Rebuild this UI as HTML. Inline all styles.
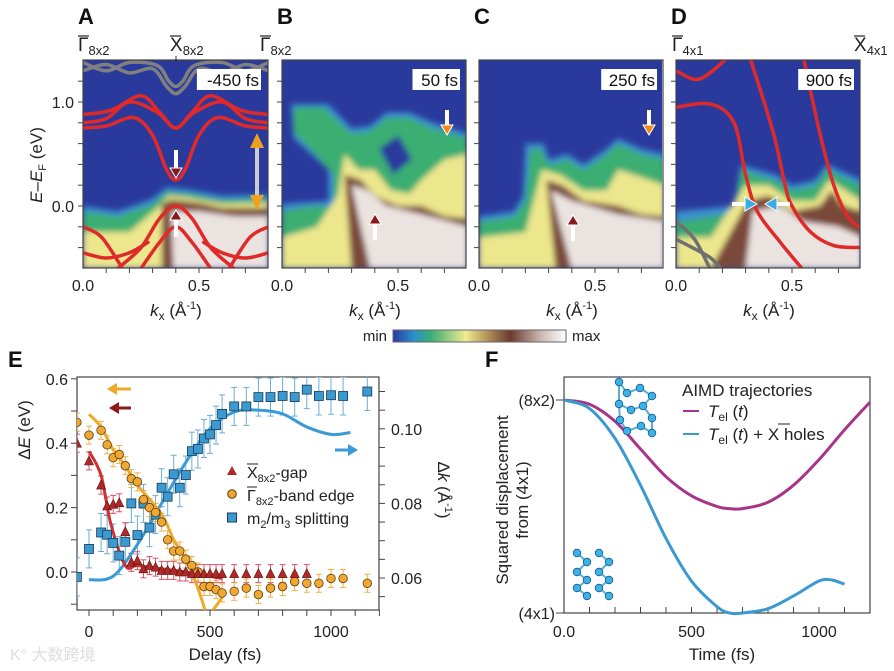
<!DOCTYPE html>
<html><head><meta charset="utf-8"><style>
html,body{margin:0;padding:0;background:#fff;}
svg{display:block;font-family:"Liberation Sans",Arial,sans-serif;}
</style></head><body>
<svg id="fig" width="894" height="671" viewBox="0 0 894 671" xmlns="http://www.w3.org/2000/svg">
<defs>
<filter id="blur" x="-10%" y="-10%" width="120%" height="120%"><feGaussianBlur stdDeviation="3"/></filter>
<linearGradient id="cbar" x1="0" x2="1" y1="0" y2="0">
<stop offset="0" stop-color="#2a3a9c"/><stop offset="0.12" stop-color="#2a8fd0"/><stop offset="0.22" stop-color="#3aae72"/><stop offset="0.42" stop-color="#f0ec8e"/><stop offset="0.58" stop-color="#a07a4a"/><stop offset="0.68" stop-color="#6e3a30"/><stop offset="0.85" stop-color="#c9b6b0"/><stop offset="1" stop-color="#ffffff"/>
</linearGradient>
<clipPath id="cA"><rect x="83" y="60" width="185" height="208"/></clipPath>
<clipPath id="cB"><rect x="282" y="60" width="184" height="208"/></clipPath>
<clipPath id="cC"><rect x="479" y="60" width="183" height="208"/></clipPath>
<clipPath id="cD"><rect x="676" y="60" width="184" height="208"/></clipPath>
<clipPath id="cE"><rect x="77" y="377" width="302" height="233"/></clipPath>
</defs>
</svg>
<script>
const NS='http://www.w3.org/2000/svg';
const svg=document.getElementById('fig');
function mk(tag,attrs,parent,text){const e=document.createElementNS(NS,tag);for(const k in attrs)e.setAttribute(k,attrs[k]);if(text!==undefined)e.textContent=text;(parent||svg).appendChild(e);return e;}

// ---------- Panel E data ----------
const eDelays=[-50,0,50,75,100,125,150,175,200,225,250,275,300,325,350,375,400,425,450,475,500,525,550,600,650,700,750,800,850,900,950,1000,1050,1150];
const gapDelays=[-50,0,50,75,100,125,150,175,200,225,250,275,300,325,350,375,400,425,450,475,500,525,550,600,650,700,750,800,850,900];
const gapValues=[0.40,0.345,0.27,0.205,0.21,0.215,0.125,0.03,0.035,0.01,0.02,0.015,0.005,0.005,0.005,0.0,0.0,-0.005,-0.005,-0.005,-0.005,-0.005,-0.005,-0.005,-0.005,-0.005,-0.005,-0.005,-0.005,-0.005];
const edgeValues=[0.465,0.425,0.44,0.395,0.355,0.365,0.33,0.29,0.28,0.225,0.20,0.185,0.155,0.10,0.065,0.065,0.04,0.02,0.0,-0.045,-0.045,-0.055,-0.065,-0.06,-0.05,-0.07,-0.05,-0.045,-0.03,-0.035,-0.035,-0.02,-0.02,-0.035];
const splitValues=[0.0603,0.0678,0.0722,0.0716,0.0694,0.066,0.0697,0.080,0.0715,0.080,0.0735,0.077,0.0842,0.0818,0.0878,0.0842,0.0876,0.094,0.0946,0.0974,0.0985,0.101,0.104,0.106,0.106,0.1085,0.1085,0.1088,0.1085,0.1105,0.1088,0.109,0.1088,0.110];
const gapFitT=[0,50,90,150,200,300,400,550];
const gapFitV=[0.375,0.30,0.15,0.02,0.02,0.01,0.0,-0.02];
const edgeFitT=[0,50,100,150,200,300,350,400,450,480];
const edgeFitV=[0.49,0.45,0.38,0.33,0.27,0.18,0.10,0.04,-0.05,-0.12];
const splitFitT=[0,100,200,300,400,500,600,700,800,900,1000,1080];
const splitFitV=[0.0595,0.0605,0.069,0.080,0.091,0.100,0.1045,0.105,0.104,0.1005,0.0985,0.099];
const eLeftTicks=[0.0,0.2,0.4,0.6];
const eRightTicks=[0.06,0.08,0.10];
const eXTicks=[0,500,1000];

// ---------- Panel F data ----------
const fT=[0,100,200,300,400,500,600,650,700,800,900,1000,1100,1200];
const fMagenta=[1,0.98,0.9,0.77,0.64,0.55,0.5,0.49,0.49,0.52,0.6,0.72,0.86,0.99];
const fBlueT=[0,100,200,300,400,500,600,650,700,800,900,1000,1050,1100];
const fBlue=[1,0.96,0.82,0.6,0.35,0.15,0.03,0.0,0.0,0.02,0.08,0.15,0.155,0.135];
const fXTicks=[0,500,1000];
const fXTickLabels=['0.0','500','1000'];

// ---------- Top panels ----------
const panels=[
 {id:'A',x0:83,clip:'cA',label:'-450 fs'},
 {id:'B',x0:282,clip:'cB',label:'50 fs'},
 {id:'C',x0:479,clip:'cC',label:'250 fs'},
 {id:'D',x0:676,clip:'cD',label:'900 fs'}];
const KS=232; function ey(E){return 206-104*E;}
const layers={
A:[['#3a8fd0',[[0,-0.6],[0,0],[0.15,-0.05],[0.3,0.07],[0.36,0.18],[0.45,0.16],[0.6,0.1],[0.8,0.11],[0.8,-0.6]]],
   ['#3aae72',[[0,-0.6],[0,-0.05],[0.15,-0.1],[0.3,0.02],[0.36,0.14],[0.45,0.12],[0.6,0.06],[0.8,0.07],[0.8,-0.6]]],
   ['#ece68c',[[0,-0.6],[0,-0.25],[0.2,-0.25],[0.32,-0.02],[0.37,0.1],[0.45,0.08],[0.6,0.02],[0.8,0.03],[0.8,-0.6]]],
   ['#7a4a3a',[[0.34,-0.6],[0.34,0.02],[0.38,0.06],[0.5,0.03],[0.6,-0.02],[0.8,-0.02],[0.8,-0.6]]],
   ['#ebe3e0',[[0.39,-0.6],[0.38,-0.05],[0.5,-0.05],[0.65,-0.1],[0.8,-0.1],[0.8,-0.6]]]],
B:[['#3a8fd0',[[0,-0.6],[0,0.02],[0.2,0.05],[0.2,0.35],[0.05,0.65],[0.04,0.98],[0.2,0.98],[0.3,0.75],[0.38,0.77],[0.45,0.9],[0.55,0.9],[0.65,0.8],[0.8,0.7],[0.8,-0.6]]],
   ['#3aae72',[[0,-0.6],[0,-0.05],[0.12,0],[0.22,0],[0.22,0.3],[0.1,0.6],[0.05,0.7],[0.05,0.95],[0.18,0.95],[0.3,0.7],[0.38,0.72],[0.45,0.85],[0.55,0.85],[0.65,0.75],[0.8,0.65],[0.8,-0.6]]],
   ['#2a3a9c',[[0.42,0.55],[0.5,0.68],[0.56,0.45],[0.48,0.3]]],
   ['#ece68c',[[0,-0.6],[0,-0.3],[0.15,-0.2],[0.24,0.1],[0.27,0.5],[0.33,0.35],[0.4,0.35],[0.47,0.15],[0.55,0.12],[0.6,0.25],[0.7,0.45],[0.8,0.5],[0.8,-0.6]]],
   ['#7a4a3a',[[0.3,-0.6],[0.27,0.3],[0.34,0.25],[0.4,0.1],[0.5,0],[0.6,0],[0.7,-0.1],[0.8,-0.12],[0.8,-0.6]]],
   ['#ebe3e0',[[0.38,-0.6],[0.3,0.2],[0.37,0.15],[0.45,0],[0.6,-0.08],[0.8,-0.2],[0.8,-0.6]]]],
C:[['#3a8fd0',[[0,-0.6],[0,-0.1],[0.15,-0.05],[0.19,0.1],[0.2,0.6],[0.28,0.6],[0.3,0.45],[0.38,0.5],[0.45,0.4],[0.55,0.55],[0.6,0.65],[0.7,0.55],[0.8,0.5],[0.8,-0.6]]],
   ['#3aae72',[[0,-0.6],[0,-0.15],[0.15,-0.1],[0.2,0.05],[0.21,0.3],[0.22,0.55],[0.27,0.55],[0.3,0.4],[0.38,0.45],[0.45,0.35],[0.55,0.5],[0.6,0.6],[0.7,0.5],[0.8,0.45],[0.8,-0.6]]],
   ['#ece68c',[[0,-0.6],[0,-0.3],[0.2,-0.25],[0.27,0.35],[0.35,0.3],[0.45,0.15],[0.55,0.15],[0.6,0.35],[0.67,0.3],[0.8,0.2],[0.8,-0.6]]],
   ['#7a4a3a',[[0.33,-0.6],[0.29,0.25],[0.36,0.2],[0.45,0.05],[0.6,0],[0.7,-0.08],[0.8,-0.1],[0.8,-0.6]]],
   ['#ebe3e0',[[0.4,-0.6],[0.31,0.15],[0.4,0.05],[0.6,-0.08],[0.8,-0.15],[0.8,-0.6]]]],
D:[['#3a8fd0',[[0,-0.6],[0,-0.05],[0.15,-0.02],[0.25,0.0],[0.28,0.4],[0.35,0.35],[0.43,0.3],[0.5,0.2],[0.6,0.25],[0.65,0.4],[0.7,0.35],[0.8,0.25],[0.8,-0.6]]],
   ['#3aae72',[[0,-0.6],[0,-0.15],[0.15,-0.1],[0.25,-0.05],[0.28,0.35],[0.35,0.3],[0.43,0.25],[0.5,0.15],[0.6,0.2],[0.65,0.35],[0.7,0.3],[0.8,0.2],[0.8,-0.6]]],
   ['#ece68c',[[0,-0.6],[0,-0.3],[0.15,-0.3],[0.3,0.2],[0.4,0.2],[0.5,0.05],[0.6,0.05],[0.66,0.25],[0.8,0.05],[0.8,-0.6]]],
   ['#7a4a3a',[[0.15,-0.6],[0.31,0.05],[0.4,0.1],[0.5,-0.05],[0.62,0],[0.67,0.15],[0.72,0],[0.8,-0.05],[0.8,-0.6]]],
   ['#ebe3e0',[[0.3,-0.6],[0.33,-0.05],[0.45,0],[0.55,-0.15],[0.7,-0.2],[0.8,-0.3],[0.8,-0.6]]]]
};
function mirror(h){const r=h.slice();for(let i=h.length-2;i>=0;i--)r.push([0.8-h[i][0],h[i][1]]);return r;}
const bandsA=[
 ['#e02a2a',mirror([[0,0.88],[0.12,0.92],[0.25,1.06],[0.33,0.9],[0.4,0.75]])],
 ['#e02a2a',mirror([[0,0.8],[0.1,0.84],[0.2,1.0],[0.32,0.9],[0.4,0.75]])],
 ['#e02a2a',mirror([[0,0.75],[0.1,0.77],[0.22,0.85],[0.3,0.68],[0.36,0.35],[0.4,0.25]])],
 ['#e02a2a',mirror([[0.15,-0.6],[0.25,-0.4],[0.33,-0.12],[0.4,0.0]])],
 ['#e02a2a',mirror([[0.25,-0.6],[0.33,-0.35],[0.4,-0.2]])],
 ['#e02a2a',[[0,-0.2],[0.08,-0.3],[0.17,-0.6]]],
 ['#e02a2a',[[0.8,-0.2],[0.72,-0.3],[0.63,-0.6]]],
 ['#e02a2a',[[0,-0.45],[0.1,-0.5],[0.2,-0.45],[0.28,-0.35]]],
 ['#e02a2a',[[0.8,-0.45],[0.7,-0.5],[0.6,-0.45],[0.52,-0.35]]],
 ['#808080',mirror([[0,1.3],[0.1,1.36],[0.2,1.28],[0.3,1.32],[0.36,1.15],[0.4,1.08]])],
 ['#808080',mirror([[0,1.38],[0.1,1.3],[0.2,1.38],[0.32,1.35],[0.37,1.2],[0.4,1.15]])]];
const bandsD=[
 ['#e02a2a',[[0,1.3],[0.1,1.22],[0.22,1.42]]],
 ['#e02a2a',[[0,0.95],[0.15,0.98],[0.25,0.8],[0.3,0.3],[0.35,-0.05],[0.45,-0.35],[0.55,-0.62]]],
 ['#e02a2a',[[0.32,1.42],[0.42,0.7],[0.47,0.2],[0.5,0.0],[0.58,-0.25],[0.68,-0.38],[0.8,-0.4]]],
 ['#e02a2a',[[0.55,1.42],[0.62,0.7],[0.68,0.2],[0.74,-0.1],[0.8,-0.22]]],
 ['#707070',[[0,-0.15],[0.08,-0.32],[0.15,-0.62]]],
 ['#707070',[[0,-0.32],[0.07,-0.4],[0.15,-0.5],[0.2,-0.62]]]];

function smoothPath(pts){let d='M'+pts[0][0]+','+pts[0][1];for(let i=0;i<pts.length-1;i++){const p0=pts[i-1]||pts[i],p1=pts[i],p2=pts[i+1],p3=pts[i+2]||p2;const c1=[p1[0]+(p2[0]-p0[0])/6,p1[1]+(p2[1]-p0[1])/6],c2=[p2[0]-(p3[0]-p1[0])/6,p2[1]-(p3[1]-p1[1])/6];d+=' C'+c1.join(',')+' '+c2.join(',')+' '+p2.join(',');}return d;}

panels.forEach(p=>{
 const g=mk('g',{'clip-path':'url(#'+p.clip+')'});
 
 
 const bg=mk('rect',{x:p.x0,y:60,width:186,height:208,fill:'#2a3a9c'},g);
 
 
 const lg=mk('g',{filter:'url(#blur)'},g);
 
 
 layers[p.id].forEach(l=>{
  const pts=l[1].map(q=>(p.x0+q[0]*KS)+','+ey(q[1])).join(' ');
  const poly=mk('polygon',{points:pts,fill:l[0]},lg);
  
  
 });
 const bands=p.id==='A'?bandsA:(p.id==='D'?bandsD:[]);
 bands.forEach(b=>{
  const pts=b[1].map(q=>[p.x0+q[0]*KS,ey(q[1])]);
  const path=mk('path',{d:smoothPath(pts),fill:'none',stroke:b[0],'stroke-width':3.5,'stroke-linecap':'round'},g);
  
  
 });
 // frame
 const fr=mk('rect',{x:p.x0,y:60,width:p.id==='A'?185:184,height:208,fill:'none',stroke:'#444','stroke-width':1.2});
 
 
 // time label
 const tw=p.label.length*8.3+6;
 const lb=mk('rect',{x:p.x0+178-tw,y:69,width:tw,height:21,fill:'#fff'});
 
 
 const lt=mk('text',{x:p.x0+176,y:86,'text-anchor':'end','font-size':17,fill:'#111'},svg,p.label);
 
 
 // panel letter
 const pl=mk('text',{x:p.x0-5,y:24,'font-size':22,'font-weight':'bold',fill:'#111'},svg,p.id);
 
 
 // ticks
 for(let E=-0.4;E<=1.21;E+=0.2){const t=mk('line',{x1:p.x0-5,x2:p.x0,y1:ey(E),y2:ey(E),stroke:'#444'});}
 for(let k=0.1;k<0.79;k+=0.1){const t=mk('line',{x1:p.x0+k*KS,x2:p.x0+k*KS,y1:268,y2:273,stroke:'#444'});}
 [[0,'0.0'],[0.5,'0.5']].forEach(v=>{const t=mk('text',{x:p.x0+v[0]*KS,y:291,'text-anchor':'middle','font-size':16,fill:'#222'},svg,v[1]);});
 const xt=mk('text',{x:p.x0+93,y:316,'text-anchor':'middle','font-size':17,fill:'#222'});
 
 
 xt.innerHTML='<tspan font-style="italic">k</tspan><tspan font-size="12" dy="4">x</tspan><tspan dy="-4"> (Å</tspan><tspan font-size="11" dy="-7">-1</tspan><tspan dy="7">)</tspan>';
});
// Y axis A
[[1.0,'1.0'],[0.0,'0.0']].forEach(v=>{const t=mk('text',{x:74,y:ey(v[0])+6,'text-anchor':'end','font-size':16,fill:'#222'},svg,v[1]);});
const yta=mk('text',{transform:'translate(42,165) rotate(-90)','text-anchor':'middle','font-size':17,fill:'#222'});


yta.innerHTML='<tspan font-style="italic">E</tspan>–<tspan font-style="italic">E</tspan><tspan font-size="11" dy="4">F</tspan><tspan dy="-4"> (eV)</tspan>';
// high symmetry labels
function sym(x,y,letter,sub,name){const t=mk('text',{x:x,y:y,'font-size':19,fill:'#222'});t.innerHTML=letter+'<tspan font-size="13" dy="4">'+sub+'</tspan>';const w=11;mk('line',{x1:x,x2:x+w,y1:y-15,y2:y-15,stroke:'#222','stroke-width':1.2});}
sym(78,51,'Γ','8x2','gamma-8x2-left');sym(170,51,'X','8x2','x-8x2-label');sym(260,51,'Γ','8x2','gamma-8x2-right');
sym(672,51,'Γ','4x1','gamma-4x1-label');sym(854,51,'X','4x1','x-4x1-label');
mk('line',{x1:176,x2:176,y1:56,y2:62,stroke:'#222'});
// arrows in A-D
function arrow(x,y1,y2,color,name){const g=mk('g',{});const dir=y2>y1?1:-1;mk('line',{x1:x,x2:x,y1:y1,y2:y2-dir*8,stroke:'#fff','stroke-width':4},g);mk('polygon',{points:`${x-6},${y2-dir*10} ${x+6},${y2-dir*10} ${x},${y2}`,fill:color,stroke:'#fff','stroke-width':1},g);}
arrow(176,150,178,'#8a1a1a','gap-arrow-down');arrow(176,237,210,'#8a1a1a','gap-arrow-up');
arrow(375,240,214,'#8a1a1a','gap-arrow-b');arrow(573,241,215,'#8a1a1a','gap-arrow-c');
arrow(447,110,135,'#f08a1e','edge-arrow-b');arrow(649,110,135,'#f08a1e','edge-arrow-c');
const ga=mk('g',{});
mk('line',{x1:257,x2:257,y1:145,y2:198,stroke:'#ccc','stroke-width':4},ga);
mk('polygon',{points:'250,148 264,148 257,133',fill:'#f0a020'},ga);mk('polygon',{points:'250,195 264,195 257,210',fill:'#f0a020'},ga);
const ca=mk('g',{});
mk('line',{x1:732,x2:750,y1:204,y2:204,stroke:'#fff','stroke-width':4},ca);mk('polygon',{points:'745,197 745,211 757,204',fill:'#3aaee0',stroke:'#fff'},ca);
mk('line',{x1:790,x2:772,y1:204,y2:204,stroke:'#fff','stroke-width':4},ca);mk('polygon',{points:'777,197 777,211 765,204',fill:'#3aaee0',stroke:'#fff'},ca);
// colorbar
const cb=mk('rect',{x:393,y:330,width:173,height:12,fill:'url(#cbar)',stroke:'#666'});

const cmin=mk('text',{x:387,y:341,'text-anchor':'end','font-size':15,fill:'#222'},svg,'min');
const cmax=mk('text',{x:572,y:341,'font-size':15,fill:'#222'},svg,'max');

// ---------- Panel E ----------
const ex=t=>89+t*0.242, eyE=v=>572-v*322, eyK=k=>578-(k-0.06)*3730;
const eL=mk('text',{x:8,y:367,'font-size':22,'font-weight':'bold',fill:'#111'},svg,'E');
const eF=mk('rect',{x:77,y:377,width:302,height:233,fill:'none',stroke:'#444','stroke-width':1.2});
for(let v=-0.1;v<=0.61;v+=0.1){const t=mk('line',{x1:71,x2:77,y1:eyE(v),y2:eyE(v),stroke:'#444'});}
eLeftTicks.forEach(v=>{const t=mk('text',{x:68,y:eyE(v)+6,'text-anchor':'end','font-size':16,fill:'#222'},svg,v.toFixed(1));});
for(let k=0.055;k<=0.111;k+=0.005){const t=mk('line',{x1:379,x2:385,y1:eyK(k),y2:eyK(k),stroke:'#444'});}
eRightTicks.forEach(v=>{const t=mk('text',{x:391,y:eyK(v)+6,'font-size':16,fill:'#222'},svg,v.toFixed(2));});
for(let t0=0;t0<=1200;t0+=100){const t=mk('line',{x1:ex(t0),x2:ex(t0),y1:610,y2:616,stroke:'#444'});}
eXTicks.forEach(v=>{const t=mk('text',{x:ex(v),y:637,'text-anchor':'middle','font-size':16,fill:'#222'},svg,String(v));});
const ext=mk('text',{x:225,y:660,'text-anchor':'middle','font-size':17,fill:'#222'},svg,'Delay (fs)');
const eyt=mk('text',{transform:'translate(30,430) rotate(-90)','text-anchor':'middle','font-size':17,fill:'#222'});eyt.innerHTML='Δ<tspan font-style="italic">E</tspan> (eV)';
const ey2=mk('text',{transform:'translate(438,490) rotate(90)','text-anchor':'middle','font-size':17,fill:'#222'});ey2.innerHTML='Δ<tspan font-style="italic">k</tspan> (Å<tspan font-size="11" dy="-7">-1</tspan><tspan dy="7">)</tspan>';
const eg=mk('g',{'clip-path':'url(#cE)'});
function fit(ts,vs,yf,color,name){const p=mk('path',{d:smoothPath(ts.map((t,i)=>[ex(t),yf(vs[i])])),fill:'none',stroke:color,'stroke-width':3},eg);}
function err(x,y,h,color){mk('line',{x1:x,x2:x,y1:y-h,y2:y+h,stroke:color,'stroke-width':1},eg);mk('line',{x1:x-3,x2:x+3,y1:y-h,y2:y-h,stroke:color},eg);mk('line',{x1:x-3,x2:x+3,y1:y+h,y2:y+h,stroke:color},eg);}
eDelays.forEach((t,i)=>{err(ex(t),eyK(splitValues[i]),19,'#6aaed8');});
gapDelays.forEach((t,i)=>{err(ex(t),eyE(gapValues[i]),9,'#e05060');});
eDelays.forEach((t,i)=>{err(ex(t),eyE(edgeValues[i]),9,'#f0b040');});
fit(splitFitT,splitFitV,eyK,'#3a9ad8','split-fit-line');
fit(gapFitT,gapFitV,eyE,'#d03030','gap-fit-line');
fit(edgeFitT,edgeFitV,eyE,'#f0a828','edge-fit-line');
fit([510,540,565],[-0.12,-0.09,-0.06],eyE,'#f0a828','edge-fit-line-2');
eDelays.forEach((t,i)=>{const r=mk('rect',{x:ex(t)-4.5,y:eyK(splitValues[i])-4.5,width:9,height:9,fill:'#3a9ad0',stroke:'#1a3a5a','stroke-width':0.8},eg);});
eDelays.forEach((t,i)=>{const c=mk('circle',{cx:ex(t),cy:eyE(edgeValues[i]),r:4.3,fill:'#f0a830',stroke:'#5a3a10','stroke-width':0.8},eg);});
gapDelays.forEach((t,i)=>{const x=ex(t),y=eyE(gapValues[i]);const p=mk('polygon',{points:`${x-4.5},${y+4} ${x+4.5},${y+4} ${x},${y-5}`,fill:'#b02828',stroke:'#5a1010','stroke-width':0.6},eg);});
// axis arrows
function harrow(x1,x2,y,color,name){const g=mk('g',{});const d=x2>x1?1:-1;mk('line',{x1:x1,x2:x2-d*8,y1:y,y2:y,stroke:color,'stroke-width':3},g);mk('polygon',{points:`${x2-d*10},${y-6} ${x2-d*10},${y+6} ${x2},${y}`,fill:color},g);}
harrow(131,107,389,'#f0a828','edge-axis-arrow');harrow(131,109,408,'#8a1a1a','gap-axis-arrow');harrow(335,358,450,'#3a9ad8','split-axis-arrow');
// legend E
const leg=mk('g',{});
mk('polygon',{points:'227,475 237,475 232,466',fill:'#b02828'},leg);
mk('circle',{cx:232,cy:494,r:4.3,fill:'#f0a830',stroke:'#5a3a10'},leg);
mk('rect',{x:227.5,y:513,width:9,height:9,fill:'#3a9ad0',stroke:'#1a3a5a'},leg);
const l1=mk('text',{x:247,y:478,'font-size':16,fill:'#222'},leg);l1.innerHTML='X<tspan font-size="11" dy="4">8x2</tspan><tspan dy="-4">-gap</tspan>';
mk('line',{x1:247,x2:258,y1:464,y2:464,stroke:'#222'},leg);
const l2=mk('text',{x:247,y:501,'font-size':16,fill:'#222'},leg);l2.innerHTML='Γ<tspan font-size="11" dy="4">8x2</tspan><tspan dy="-4">-band edge</tspan>';
mk('line',{x1:247,x2:257,y1:487,y2:487,stroke:'#222'},leg);
const l3=mk('text',{x:247,y:524,'font-size':16,fill:'#222'},leg);l3.innerHTML='m<tspan font-size="11" dy="4">2</tspan><tspan dy="-4">/m</tspan><tspan font-size="11" dy="4">3</tspan><tspan dy="-4"> splitting</tspan>';

// ---------- Panel F ----------
const fx=t=>564+t*0.255, fy=v=>613-v*213;
const fL=mk('text',{x:485,y:367,'font-size':22,'font-weight':'bold',fill:'#111'},svg,'F');
const fF=mk('rect',{x:564,y:377,width:306,height:236,fill:'none',stroke:'#444','stroke-width':1.2});
for(let t0=100;t0<1200;t0+=100){const t=mk('line',{x1:fx(t0),x2:fx(t0),y1:613,y2:607,stroke:'#444'});}
fXTicks.forEach((v,i)=>{const t=mk('text',{x:fx(v),y:637,'text-anchor':'middle','font-size':16,fill:'#222'},svg,fXTickLabels[i]);});
const fxt=mk('text',{x:722,y:660,'text-anchor':'middle','font-size':17,fill:'#222'},svg,'Time (fs)');
[[1,'(8x2)'],[0,'(4x1)']].forEach(v=>{const t=mk('text',{x:555,y:fy(v[0])+6,'text-anchor':'end','font-size':16,fill:'#222'},svg,v[1]);mk('line',{x1:556,x2:564,y1:fy(v[0]),y2:fy(v[0]),stroke:'#444'});});
const fyt=mk('text',{transform:'translate(508,500) rotate(-90)','text-anchor':'middle','font-size':17,fill:'#222'},svg,'Squared displacement');
const fyt2=mk('text',{transform:'translate(528,500) rotate(-90)','text-anchor':'middle','font-size':17,fill:'#222'},svg,'from (4x1)');
const pm=mk('path',{d:smoothPath(fT.map((t,i)=>[fx(t),fy(fMagenta[i])])),fill:'none',stroke:'#a8348a','stroke-width':3});
const pb=mk('path',{d:smoothPath(fBlueT.map((t,i)=>[fx(t),fy(fBlue[i])])),fill:'none',stroke:'#3a9ad0','stroke-width':3});
const lf=mk('g',{});
mk('text',{x:682,y:396,'font-size':17,fill:'#222'},lf,'AIMD trajectories');
mk('line',{x1:683,x2:699,y1:411,y2:411,stroke:'#a8348a','stroke-width':2},lf);
const lf1=mk('text',{x:708,y:417,'font-size':17,fill:'#222'},lf);lf1.innerHTML='<tspan font-style="italic">T</tspan><tspan font-size="12" dy="4">el</tspan><tspan dy="-4"> (</tspan><tspan font-style="italic">t</tspan>)';
mk('line',{x1:683,x2:699,y1:434,y2:434,stroke:'#3a9ad0','stroke-width':2},lf);
const lf2=mk('text',{x:708,y:440,'font-size':17,fill:'#222'},lf);lf2.innerHTML='<tspan font-style="italic">T</tspan><tspan font-size="12" dy="4">el</tspan><tspan dy="-4"> (</tspan><tspan font-style="italic">t</tspan>) + X holes';
mk('line',{x1:778,x2:790,y1:424,y2:424,stroke:'#222'},lf);
// atom structure icons
function atoms(pts,edges,name){const g=mk('g',{});edges.forEach(e=>mk('line',{x1:pts[e[0]][0],y1:pts[e[0]][1],x2:pts[e[1]][0],y2:pts[e[1]][1],stroke:'#5aaed8','stroke-width':2},g));pts.forEach(p=>mk('circle',{cx:p[0],cy:p[1],r:3.8,fill:'#3ab4e8',stroke:'#1a5a8a','stroke-width':0.8},g));}
atoms([[619,382],[627,393],[640,388],[652,396],[619,404],[631,410],[643,406],[652,418],[620,420],[627,431],[641,426],[652,433]],[[0,1],[1,2],[2,3],[0,4],[4,5],[5,6],[6,3],[6,7],[4,8],[8,9],[9,10],[10,11],[7,11]],'structure-8x2');
atoms([[577,553],[587,562],[577,572],[587,580],[577,588],[587,596],[599,553],[609,562],[599,572],[609,580],[599,588],[609,596]],[[0,1],[1,2],[2,3],[3,4],[4,5],[6,7],[7,8],[8,9],[9,10],[10,11]],'structure-4x1');
// watermark
const wm=mk('text',{x:10,y:660,'font-size':16,fill:'#ddd','font-family':'"Liberation Sans","Noto Sans CJK SC",sans-serif'},svg,'K° 大数跨境');
</script>
</body></html>
